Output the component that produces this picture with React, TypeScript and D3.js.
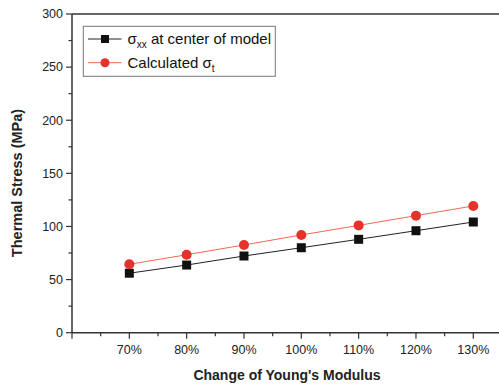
import React from "react";
import * as d3 from "d3";

const categories = [70, 80, 90, 100, 110, 120, 130];
const sigmaXX = [56, 63.7, 72.2, 80, 87.9, 96, 104.2];
const sigmaT = [64.4, 73.4, 82.6, 92, 101, 110.2, 119.3];
const yTicks = [0, 50, 100, 150, 200, 250, 300];
const yMinor = [25, 75, 125, 175, 225, 275];
const xMinor = [60, 65, 75, 85, 95, 105, 115, 125, 135];

export default function App() {
  const W = 499, H = 385;
  const left = 72, top = 14, bottom = 332.7;
  const x = d3.scaleLinear().domain([60, 130]).range([left, 473.3]);
  const y = d3.scaleLinear().domain([0, 300]).range([bottom, top]);
  const line = d3.line<number>().x((_, i) => x(categories[i])).y((d) => y(d));
  const axisColor = "#333";
  const red = "#e5322b";
  const font = "'Liberation Sans', Arial, sans-serif";
  return (
    <svg width={W} height={H} style={{ position: "absolute", left: 0, top: 0, background: "#fff" }} fontFamily={font}>
      {/* axes */}
      <line x1={left} x2={W + 5} y1={top} y2={top} stroke={axisColor} strokeWidth={1.5} />
      <line x1={left} x2={left} y1={top} y2={bottom} stroke={axisColor} strokeWidth={1.5} />
      <line x1={left} x2={W + 5} y1={bottom} y2={bottom} stroke={axisColor} strokeWidth={1.5} />
      {yTicks.map((t) => (
        <g key={"y" + t}>
          <line x1={left - 6} x2={left} y1={y(t)} y2={y(t)} stroke={axisColor} strokeWidth={1.2} />
          <text x={left - 9} y={y(t)} dy="0.35em" textAnchor="end" fontSize={12.5} fill="#222">{t}</text>
        </g>
      ))}
      {yMinor.map((t) => (
        <line key={"ym" + t} x1={left - 3.5} x2={left} y1={y(t)} y2={y(t)} stroke={axisColor} strokeWidth={1.2} />
      ))}
      {categories.map((c) => (
        <g key={"x" + c}>
          <line x1={x(c)} x2={x(c)} y1={bottom} y2={bottom + 6} stroke={axisColor} strokeWidth={1.2} />
          <text x={x(c)} y={bottom + 17} dy="0.35em" textAnchor="middle" fontSize={12.5} fill="#222">{c}%</text>
        </g>
      ))}
      {xMinor.map((c) => (
        <line key={"xm" + c} x1={x(c)} x2={x(c)} y1={bottom} y2={bottom + (c === 60 ? 6 : 3.5)} stroke={axisColor} strokeWidth={1.2} />
      ))}
      {/* axis titles */}
      <text x={287} y={375} dy="0.35em" textAnchor="middle" fontSize={14} fontWeight="bold" fill="#222">Change of Young's Modulus</text>
      <text transform={`translate(17,183) rotate(-90)`} dy="0.35em" textAnchor="middle" fontSize={14.5} fontWeight="bold" fill="#222">Thermal Stress (MPa)</text>
      {/* series */}
      <path d={line(sigmaXX) || ""} fill="none" stroke="#222" strokeWidth={1} />
      <path d={line(sigmaT) || ""} fill="none" stroke="#ef6a55" strokeWidth={1} />
      {sigmaXX.map((v, i) => (
        <rect key={"s" + i} x={x(categories[i]) - 4.5} y={y(v) - 4.5} width={9} height={9} fill="#111" />
      ))}
      {sigmaT.map((v, i) => (
        <circle key={"c" + i} cx={x(categories[i])} cy={y(v)} r={5} fill={red} />
      ))}
      {/* legend */}
      <rect x={83.3} y={26.3} width={192} height={50} fill="#fff" stroke="#777" strokeWidth={1} />
      <line x1={88} x2={121.5} y1={39} y2={39} stroke="#222" strokeWidth={1} />
      <rect x={101} y={35} width={8} height={8} fill="#111" />
      <text x={127.5} y={39} dy="0.35em" fontSize={15} fill="#111">
        σ<tspan dy="4" fontSize={10}>xx</tspan><tspan dy="-4"> at center of model</tspan>
      </text>
      <line x1={88} x2={121.5} y1={62.7} y2={62.7} stroke="#ef6a55" strokeWidth={1} />
      <circle cx={105} cy={62.7} r={4.5} fill={red} />
      <text x={127.5} y={62.7} dy="0.35em" fontSize={15} fill="#111">
        Calculated σ<tspan dy="4" fontSize={10}>t</tspan>
      </text>
    </svg>
  );
}
